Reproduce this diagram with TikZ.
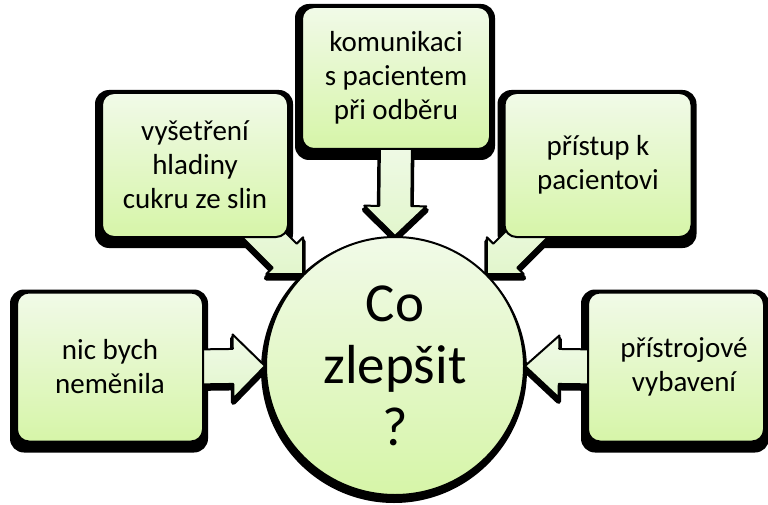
\documentclass[tikz,border=0pt]{standalone}
\usepackage{fontspec}
\setmainfont{Carlito}
\usetikzlibrary{calc}
\pgfdeclarelayer{shade}
\pgfdeclarelayer{bg}
\pgfsetlayers{shade,bg,main}
\definecolor{gtop}{RGB}{241,250,232}
\definecolor{gbot}{RGB}{214,245,168}
\definecolor{atop}{RGB}{240,250,232}
\definecolor{abot}{RGB}{226,246,204}
\tikzset{
  gbox/.style={draw=black, line width=2pt, rounded corners=12pt,
    top color=gtop, bottom color=gbot, align=center, inner sep=0pt,
    font=\fontsize{29}{34}\selectfont},
  hub/.style={circle, draw=black, line width=2pt, top color=gtop, bottom color=gbot,
    minimum size=258pt, align=center, inner sep=0pt, font=\fontsize{55}{62}\selectfont},
  boxshadow/.style={fill=black, rounded corners=14pt},
  barrow/.style={preaction={draw=black, fill=black, line width=5pt, line join=round,
    transform canvas={yshift=-4pt}},
    draw=black, line width=2pt, line join=round, top color=atop, bottom color=abot},
}
% #1 start, #2 tip, #3 shaft half width, #4 head half width, #5 head length
\newcommand\blockarr[5]{%
  \coordinate (#1-hb) at ($(#2)!#5!(#1)$);
  \path[barrow] ($(#1)!#3!90:(#2)$) -- ($(#1-hb)!#3!90:(#2)$) -- ($(#1-hb)!#4!90:(#2)$)
    -- (#2) -- ($(#1-hb)!#4!-90:(#2)$) -- ($(#1-hb)!#3!-90:(#2)$) -- ($(#1)!#3!-90:(#2)$) -- cycle;
}
\newcommand\boxshade[1]{%
  \fill[boxshadow] ($(#1.north west)+(-6,-2)$) rectangle ($(#1.south east)+(4,10)$);
}
\begin{document}
\begin{tikzpicture}[x=1pt,y=-1pt]
\useasboundingbox (0,0) rectangle (768,505);
\clip (0,0) rectangle (768,505);

\node[hub] (hub) at (395,366) {Co\\zlep\v{s}it\\?};

\node[gbox, minimum width=186pt, minimum height=144pt] (b1) at (195,165) {vy\v{s}et\v{r}en\'{\i}\\hladiny\\cukru ze slin};
\node[gbox, minimum width=188pt, minimum height=142pt] (b2) at (396,78) {komunikaci\\s pacientem\\p\v{r}i odb\v{e}ru};
\node[gbox, minimum width=187pt, minimum height=144pt] (b3) at (598,165) {p\v{r}\'{\i}stup k\\pacientovi};
\node[gbox, minimum width=186pt, minimum height=149pt] (b4) at (110,367) {nic bych\\nem\v{e}nila};
\node[gbox, minimum width=176pt, minimum height=149pt] (b5) at (676,367) {\hspace*{16pt}p\v{r}\'{\i}strojov\'{e}\\\hspace*{16pt}vybaven\'{\i}};

\coordinate (s1) at ($(hub.135)+(-75,-75)$);
\coordinate (s2) at ([yshift=12pt]b2.south);
\coordinate (s3) at ($(hub.45)+(75,-75)$);
\coordinate (s4) at ([xshift=-12pt]b4.east);
\coordinate (s5) at ([xshift=12pt]b5.west);

\begin{pgfonlayer}{shade}
  \boxshade{b1}\boxshade{b2}\boxshade{b3}\boxshade{b4}\boxshade{b5}
  \fill[black] ($(hub.center)+(-1,4)$) circle (133pt);
\end{pgfonlayer}
\begin{pgfonlayer}{bg}
  \blockarr{s1}{hub.135}{17pt}{26pt}{26pt}
  \blockarr{s2}{hub.90}{16pt}{31pt}{30pt}
  \blockarr{s3}{hub.45}{17pt}{26pt}{26pt}
  \blockarr{s4}{hub.180}{17.5pt}{32pt}{32pt}
  \blockarr{s5}{hub.0}{17.5pt}{31pt}{34pt}
\end{pgfonlayer}
\end{tikzpicture}
\end{document}
